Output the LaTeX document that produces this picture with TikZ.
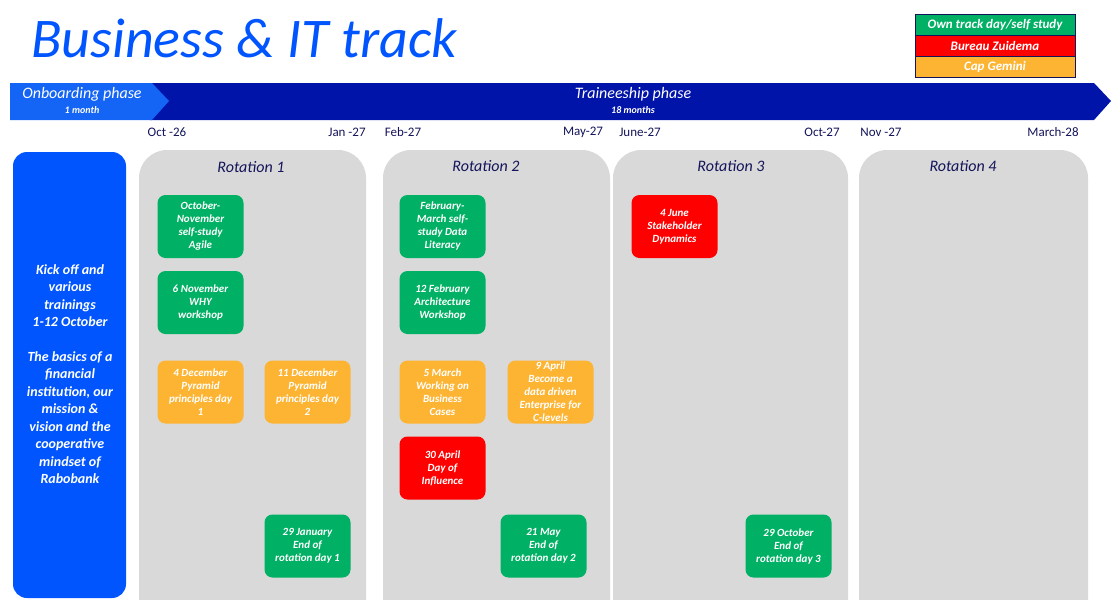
\documentclass[tikz,border=0pt]{standalone}
\usepackage{fontspec}
\setmainfont{Carlito}
\begin{document}
\begin{tikzpicture}[x=1pt,y=-1pt,
 box/.style={rounded corners=8pt,minimum width=86pt,minimum height=63pt,align=center,text=white,font=\itshape\bfseries\fontsize{11}{13}\selectfont,inner sep=1pt},
 g/.style={box,fill=tgreen}, r/.style={box,fill=tred}, o/.style={box,fill=torange},
 panel/.style={fill=panelgray,rounded corners=28pt},
 rot/.style={font=\itshape\fontsize{16}{17}\selectfont,text=navy},
 date/.style={font=\fontsize{13}{14}\selectfont,text=navy},
 leg/.style={draw=navy,line width=0.8pt,minimum width=160pt,minimum height=21pt,text=white,font=\itshape\bfseries\fontsize{13}{14}\selectfont,inner sep=0pt}]
\definecolor{tgreen}{RGB}{0,176,100}
\definecolor{tred}{RGB}{255,0,0}
\definecolor{torange}{RGB}{253,180,50}
\definecolor{panelgray}{RGB}{217,217,217}
\definecolor{navy}{RGB}{20,20,90}
\definecolor{lblue}{RGB}{20,100,245}
\definecolor{dblue}{RGB}{0,20,170}
\definecolor{tblue}{RGB}{0,85,255}
\useasboundingbox (0,0) rectangle (1120,600);
\node[anchor=west,text=tblue,font=\itshape\fontsize{56}{60}\selectfont,inner sep=0] (title) at (31,38) {Business \& IT track};
\node[leg,fill=tgreen] (l1) at (995,25) {Own track day/self study};
\node[leg,fill=tred] (l2) at (995,46) {Bureau Zuidema};
\node[leg,fill=torange] (l3) at (995,67) {Cap Gemini};
% arrows
\fill[dblue] (150,83) -- (1094,83) -- (1111,101) -- (1094,120) -- (150,120) -- (166,101) -- cycle;
\fill[lblue] (10,83) -- (152,83) -- (169,101) -- (152,120) -- (10,120) -- cycle;
\node[text=white,align=center,font=\itshape\fontsize{16}{15}\selectfont,inner sep=0] (on) at (82,100) {Onboarding phase\\{\bfseries\fontsize{10}{10}\selectfont 1 month}};
\node[text=white,align=center,font=\itshape\fontsize{16}{15}\selectfont,inner sep=0] (tr) at (633,100) {Traineeship phase\\{\bfseries\fontsize{10}{10}\selectfont 18 months}};
% dates
\node[date] (d1) at (167,132) {Oct -26};
\node[date] (d2) at (347,132) {Jan -27};
\node[date] (d3) at (403,132) {Feb-27};
\node[date] (d4) at (583,132) {May-27};
\node[date] (d5) at (640,132) {June-27};
\node[date] (d6) at (822,132) {Oct-27};
\node[date] (d7) at (881,132) {Nov -27};
\node[date] (d8) at (1053,132) {March-28};
% left box
\fill[tblue,rounded corners=14pt] (13,152) rectangle (126,598);
\node[text=white,align=center,font=\itshape\bfseries\fontsize{14}{17.5}\selectfont] (kick) at (70,374) {Kick off and\\various\\trainings\\1-12 October\\[17pt]The basics of a\\financial\\institution, our\\mission \&\\vision and the\\cooperative\\mindset of\\Rabobank};
% panels
\fill[panel] (139,150) rectangle (366,630);
\fill[panel] (383,150) rectangle (610,630);
\fill[panel] (613,150) rectangle (848,630);
\fill[panel] (859,150) rectangle (1088,630);
\node[rot] (r1) at (251,167) {Rotation 1};
\node[rot] (r2) at (486,166) {Rotation 2};
\node[rot] (r3) at (731,166) {Rotation 3};
\node[rot] (r4) at (963,166) {Rotation 4};
% rotation 1
\node[g] (a1) at (200.5,226.5) {October-\\November\\self-study\\Agile};
\node[g] (a2) at (200.5,302.5) {6 November\\WHY\\workshop};
\node[o] (a3) at (200.5,392) {4 December\\Pyramid\\principles day\\1};
\node[o] (a4) at (307.5,392) {11 December\\Pyramid\\principles day\\2};
\node[g] (a5) at (307.5,546) {29 January\\End of\\rotation day 1};
% rotation 2
\node[g] (b1) at (442.5,226.5) {February-\\March self-\\study Data\\Literacy};
\node[g] (b2) at (442.5,302.5) {12 February\\Architecture\\Workshop};
\node[o] (b3) at (442.5,392) {5 March\\Working on\\Business\\Cases};
\node[o] (b4) at (550.5,392) {9 April\\Become a\\data driven\\Enterprise for\\C-levels};
\node[r] (b5) at (442.5,468) {30 April\\Day of\\Influence};
\node[g] (b6) at (543.5,546) {21 May\\End of\\rotation day 2};
% rotation 3
\node[r] (c1) at (674.5,226.5) {4 June\\Stakeholder\\Dynamics};
\node[g] (c2) at (788.5,546) {29 October\\End of\\rotation day 3};
\end{tikzpicture}
\end{document}
